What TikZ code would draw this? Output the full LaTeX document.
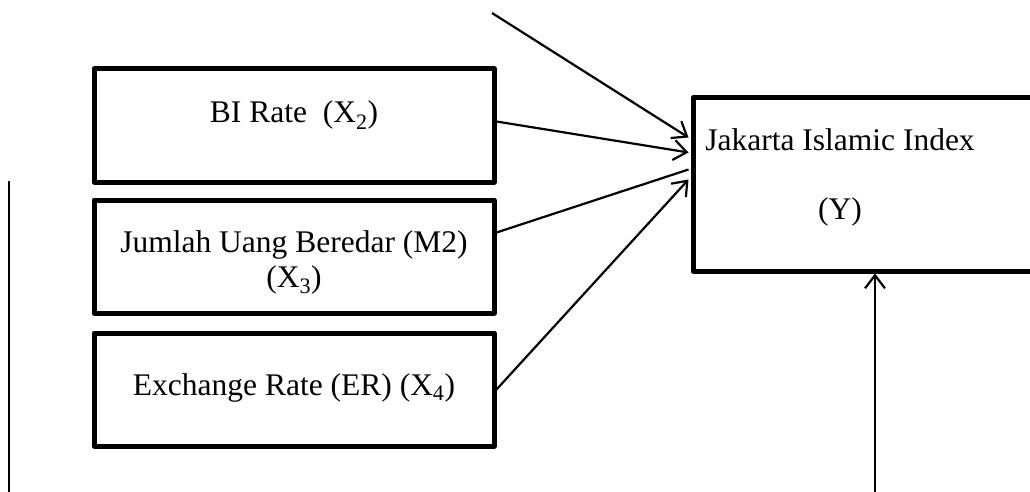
\documentclass[tikz,border=0pt]{standalone}
\usepackage{fontspec}
\setmainfont{Liberation Serif}
\usetikzlibrary{arrows.meta,calc}
\tikzset{
  box/.style={draw=black, line width=5pt, line join=round, rectangle, inner sep=0pt},
  txt/.style={font=\fontsize{31.5}{38}\selectfont, inner sep=0pt, anchor=base},
  conn/.style={draw=black, line width=2.2pt},
  arr/.style={conn, -{Straight Barb[length=13pt,width=20pt,line width=2.2pt]}}
}
\begin{document}
\begin{tikzpicture}[x=1pt,y=1pt]
\clip (0,0) rectangle (1030,-492);
\useasboundingbox (0,0) rectangle (1030,-492);
% boxes
\node[box, minimum width=400pt, minimum height=113pt] (b1) at (294,-125.5) {};
\node[box, minimum width=400pt, minimum height=113pt] (b2) at (294,-256.5) {};
\node[box, minimum width=400pt, minimum height=113pt] (b3) at (294,-389.5) {};
\node[box, minimum width=420pt, minimum height=173pt] (jii) at (903,-184.5) {};
% texts
\node[txt] (t1) at (294,-123) {BI Rate\ \ (X\textsubscript{2})};
\node[txt] (t2a) at (294,-252) {Jumlah Uang Beredar (M2)};
\node[txt] (t2b) at (294,-287) {(X\textsubscript{3})};
\node[txt] (t3) at (294,-395) {Exchange Rate (ER) (X\textsubscript{4})};
\node[txt] (t4a) at (840,-150) {Jakarta Islamic Index};
\node[txt] (t4b) at (840,-219) {(Y)};
% free ends
\coordinate (top) at (492,-13);
\coordinate (bot) at (875,-495);
\coordinate (lt) at (9,-181);
\coordinate (lb) at (9,-495);
% connectors
\draw[arr] (top) -- ($(jii.north west)+(-2,-42)$);
\draw[arr] ($(b1.north east)+(0,-55)$) -- ($(jii.north west)+(-2,-57)$);
\draw[conn] ($(b2.north east)+(0,-35)$) -- ($(jii.north west)+(-2,-74)$);
\draw[arr] (b3.east) -- ($(jii.north west)+(-2,-84)$);
\draw[arr] (bot) -- (bot |- jii.south);
\draw[conn, line width=2pt] (lt) -- (lb);
\end{tikzpicture}
\end{document}
